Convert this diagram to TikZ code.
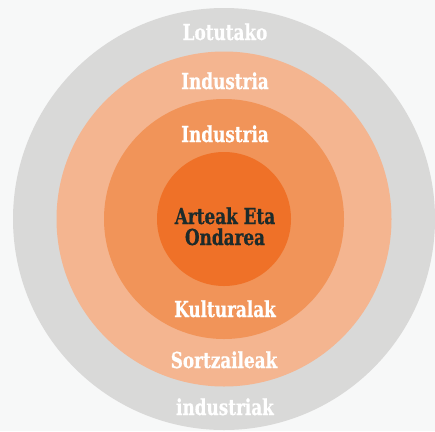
\documentclass[tikz,border=0pt]{standalone}
\usepackage{fontspec}
\newfontfamily\slabfont{DejaVu Serif Condensed}[FakeStretch=0.85,FakeBold=0.6]

\definecolor{bggray}{HTML}{F7F8F8}
\definecolor{ringgray}{HTML}{D9D9D8}
\definecolor{lightorange}{HTML}{F4B590}
\definecolor{midorange}{HTML}{F19459}
\definecolor{deeporange}{HTML}{EF7128}
\definecolor{darkteal}{HTML}{1C2B2B}

\tikzset{
  ringlabel/.style={anchor=base, inner sep=0.75pt, text=white, font=\slabfont\bfseries\fontsize{22}{24}\selectfont},
  corelabel/.style={ringlabel, text=darkteal}
}

\begin{document}
\begin{tikzpicture}[x=1pt,y=1pt,yscale=-1,xscale=1]
		% Background and frame of the whole diagram (435 x 431)
		\fill[bggray] (0,0) rectangle (435,431);
		\clip (0,0) rectangle (435,431);
		\useasboundingbox (0,0) rectangle (435,431);

		% The four rings, from the outside in
		\coordinate (centre) at (224,219);
		\fill[ringgray] (centre) circle (211);
		\fill[lightorange] (centre) circle (167.5);
		\fill[midorange] (centre) circle (120);
		\fill[deeporange] (centre) circle (67);

		% Upper labels of the rings
		\node[ringlabel] (lotutako) at (225,40) {Lotutako};
		\node[ringlabel] (industriaout) at (225,89) {Industria};
		\node[ringlabel] (industriamid) at (225,142) {Industria};

		% Core label
		\node[corelabel] (arteak) at (225,224) {Arteak Eta};
		\node[corelabel] (ondarea) at (225,245) {Ondarea};

		% Lower labels of the rings
		\node[ringlabel] (kulturalak) at (225,317) {Kulturalak};
		\node[ringlabel] (sortzaileak) at (224,368) {Sortzaileak};
		\node[ringlabel] (industriak) at (225,415) {industriak};
	\end{tikzpicture}
\end{document}
